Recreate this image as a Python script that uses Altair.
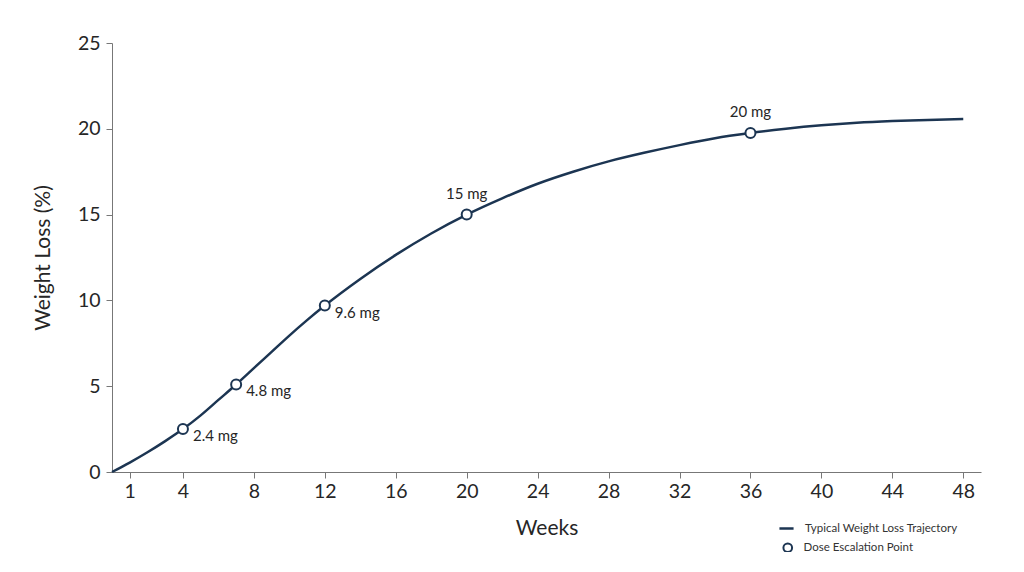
import altair as alt
import pandas as pd

weeks = [0, 1, 2, 3, 4, 5, 6, 7, 8, 9, 10, 11, 12, 14, 16, 18, 20, 22, 24, 26, 28, 30, 32, 34, 36, 38, 40, 42, 44, 46, 48]
loss = [0, 0.55, 1.15, 1.8, 2.5, 3.3, 4.2, 5.1, 6.05, 7.0, 7.95, 8.85, 9.7, 11.25, 12.65, 13.9, 15.0, 15.95, 16.8, 17.5, 18.1, 18.6, 19.05, 19.45, 19.75, 20.0, 20.2, 20.35, 20.45, 20.52, 20.57]

dose_weeks = [4, 7, 12, 20, 36]
dose_loss = [2.5, 5.1, 9.7, 15.0, 19.75]
dose_labels = ["2.4 mg", "4.8 mg", "9.6 mg", "15 mg", "20 mg"]
label_side = ["right", "right", "right", "above", "above"]

x_ticks = [1, 4, 8, 12, 16, 20, 24, 28, 32, 36, 40, 44, 48]
y_ticks = [0, 5, 10, 15, 20, 25]

NAVY = "#1c3552"
FONT = "Lato"
TXT = "#262626"

curve = pd.DataFrame({"week": weeks, "loss": loss, "series": "Typical Weight Loss Trajectory"})
doses = pd.DataFrame({"week": dose_weeks, "loss": dose_loss, "label": dose_labels, "side": label_side,
                      "kind": "Dose Escalation Point"})

xs = alt.X("week:Q", scale=alt.Scale(domain=[0, 49], nice=False, zero=False),
           axis=alt.Axis(values=x_ticks, title="Weeks", grid=False, labelFontSize=19.5,
                         titleFontSize=21, titleFontWeight="normal", tickSize=6,
                         labelPadding=4, titlePadding=17, domainColor="#777", tickColor="#777",
                         labelColor=TXT, titleColor=TXT, labelFont=FONT, titleFont=FONT))
ys = alt.Y("loss:Q", scale=alt.Scale(domain=[0, 25], nice=False),
           axis=alt.Axis(values=y_ticks, title="Weight Loss (%)", grid=False, labelFontSize=19.5,
                         titleFontSize=21, titleFontWeight="normal", tickSize=6,
                         labelPadding=6, titlePadding=24, domainColor="#777", tickColor="#777",
                         labelColor=TXT, titleColor=TXT, labelFont=FONT, titleFont=FONT))

line = alt.Chart(curve).mark_line(interpolate="monotone", strokeWidth=2.5).encode(
    x=xs, y=ys,
    color=alt.Color("series:N",
                    scale=alt.Scale(range=[NAVY]),
                    legend=alt.Legend(title=None, orient="none", legendX=666, legendY=477,
                                      symbolType="stroke", symbolStrokeWidth=2.5, symbolSize=200,
                                      labelFontSize=11.5, labelFont=FONT, labelColor="#333",
                                      labelOffset=10))
)

disks = alt.Chart(doses).mark_circle(color="white", size=90, opacity=1).encode(
    x="week:Q", y="loss:Q"
)

pts = alt.Chart(doses).mark_point(color=NAVY, strokeWidth=2, size=100, opacity=1).encode(
    x="week:Q", y="loss:Q",
    shape=alt.Shape("kind:N",
                    scale=alt.Scale(range=["circle"]),
                    legend=alt.Legend(title=None, orient="none", legendX=670, legendY=499,
                                      symbolSize=75, symbolStrokeColor=NAVY, symbolStrokeWidth=2,
                                      symbolOpacity=1,
                                      labelFontSize=11.5, labelFont=FONT, labelColor="#333",
                                      labelOffset=10))
)

lab_right = alt.Chart(doses).transform_filter(alt.datum.side == "right").mark_text(
    align="left", baseline="middle", dx=10, dy=7, fontSize=15, font=FONT, color=TXT
).encode(x="week:Q", y="loss:Q", text="label:N")

lab_above = alt.Chart(doses).transform_filter(alt.datum.side == "above").mark_text(
    align="center", baseline="middle", dx=0, dy=-21, fontSize=15, font=FONT, color=TXT
).encode(x="week:Q", y="loss:Q", text="label:N")

chart = alt.layer(line, disks, pts, lab_right, lab_above).properties(
    width=869, height=429,
    autosize=alt.AutoSizeParams(type="none"),
    padding={"left": 104, "top": 35, "right": 30, "bottom": 80},
).configure(background="white").configure_view(stroke=None)

chart.save("out.html", embed_options={"renderer": "svg", "actions": False})
